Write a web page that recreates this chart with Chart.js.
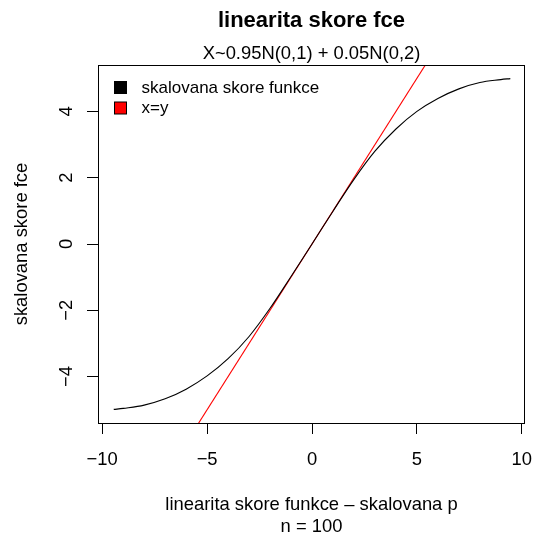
<!DOCTYPE html>
<html>
<head>
<meta charset="utf-8">
<script src="https://cdn.jsdelivr.net/npm/chart.js@4.4.0/dist/chart.umd.min.js"></script>
<style>
html, body { margin: 0; padding: 0; background: #fff; }
canvas { display: block; }
</style>
</head>
<body>
<canvas id="skoreChart" width="541" height="542"></canvas>
<script>
// values
const xValues = [-9.45, -9, -8, -7, -6, -5, -4, -3, -2, -1, 0, 1, 2, 3, 4, 5, 6, 7, 8, 9, 9.45];
const scoreValues = [-4.99, -4.96, -4.86, -4.67, -4.38, -3.98, -3.46, -2.79, -1.94, -0.98, 0,
                     0.99, 1.95, 2.80, 3.47, 4.00, 4.39, 4.68, 4.87, 4.96, 4.99];
const refLine = [-6, 6]; // x = y
const xTicks = [-10, -5, 0, 5, 10];
const xTickLabels = ['\u221210', '\u22125', '0', '5', '10'];
const yTicks = [-4, -2, 0, 2, 4];
const yTickLabels = ['\u22124', '\u22122', '0', '2', '4'];
const seriesLabels = ['skalovana skore funkce', 'x=y'];
const seriesColors = ['#000000', '#ff0000'];

const FONT = '"Liberation Sans", Arial, Helvetica, sans-serif';

const rPlot = {
    id: 'rPlot',
    afterDraw(chart) {
        const ctx = chart.ctx;
        const a = chart.chartArea;
        const xs = chart.scales.x, ys = chart.scales.y;
        const cx = (a.left + a.right) / 2;
        ctx.save();
        // box
        ctx.strokeStyle = '#000';
        ctx.lineWidth = 1;
        ctx.strokeRect(Math.round(a.left) + 0.5, Math.round(a.top) + 0.5,
            Math.round(a.right - a.left) - 1, Math.round(a.bottom - a.top));

        ctx.fillStyle = '#000';
        ctx.textBaseline = 'alphabetic';
        ctx.textAlign = 'center';
        // titles
        ctx.font = 'bold 22px ' + FONT;
        ctx.fillText('linearita skore fce', cx, 27);
        ctx.font = '18.4px ' + FONT;
        ctx.fillText('X~0.95N(0,1) + 0.05N(0,2)', cx, 59);

        // x tick labels
        xTicks.forEach((v, i) => ctx.fillText(xTickLabels[i], xs.getPixelForValue(v), 465));
        // x axis title
        ctx.fillText('linearita skore funkce \u2013 skalovana p', cx, 510);
        ctx.fillText('n = 100', cx, 532);

        // y tick labels, rotated
        yTicks.forEach((v, i) => {
            ctx.save();
            ctx.translate(71.5, ys.getPixelForValue(v));
            ctx.rotate(-Math.PI / 2);
            ctx.fillText(yTickLabels[i], 0, 0);
            ctx.restore();
        });
        // y axis title
        ctx.save();
        ctx.translate(27, (a.top + a.bottom) / 2);
        ctx.rotate(-Math.PI / 2);
        ctx.fillText('skalovana skore fce', 0, 0);
        ctx.restore();

        // legend
        ctx.font = '17px ' + FONT;
        ctx.textAlign = 'left';
        chart.data.datasets.forEach((ds, i) => {
            const yc = 87.5 + i * 20.5;
            ctx.fillStyle = ds.borderColor;
            ctx.fillRect(114.5, yc - 6, 12, 12);
            ctx.strokeStyle = '#000';
            ctx.strokeRect(114.5, yc - 6, 12, 12);
            ctx.fillStyle = '#000';
            ctx.fillText(ds.label, 141.5, yc + 5);
        });
        ctx.restore();
    }
};

const ctx = document.getElementById('skoreChart').getContext('2d');
const skoreChart = new Chart(ctx, {
    type: 'scatter',
    data: {
        datasets: [{
            label: seriesLabels[0],
            data: xValues.map((x, i) => ({ x: x, y: scoreValues[i] })),
            showLine: true,
            borderColor: seriesColors[0],
            borderWidth: 1.1,
            pointRadius: 0,
            tension: 0.35,
            clip: 0
        }, {
            label: seriesLabels[1],
            data: refLine.map(v => ({ x: v, y: v })),
            showLine: true,
            borderColor: seriesColors[1],
            borderWidth: 1.1,
            pointRadius: 0,
            clip: 0
        }]
    },
    options: {
        responsive: false,
        animation: false,
        devicePixelRatio: 1,
        layout: { padding: { top: 65, right: 16, left: 0, bottom: 0 } },
        plugins: {
            legend: { display: false },
            title: { display: false },
            tooltip: { enabled: false }
        },
        scales: {
            x: {
                type: 'linear',
                min: -10.2,
                max: 10.15,
                afterBuildTicks: s => { s.ticks = xTicks.map(v => ({ value: v })); },
                afterFit: s => { s.height = 119; },
                ticks: { display: false },
                grid: { drawOnChartArea: false, drawTicks: true, tickLength: 11, color: '#000', lineWidth: 1 },
                border: { display: false }
            },
            y: {
                type: 'linear',
                min: -5.4,
                max: 5.4,
                afterBuildTicks: s => { s.ticks = yTicks.map(v => ({ value: v })); },
                afterFit: s => { s.width = 98; },
                ticks: { display: false },
                grid: { drawOnChartArea: false, drawTicks: true, tickLength: 11, color: '#000', lineWidth: 1 },
                border: { display: false }
            }
        }
    },
    plugins: [rPlot]
});
</script>
</body>
</html>
